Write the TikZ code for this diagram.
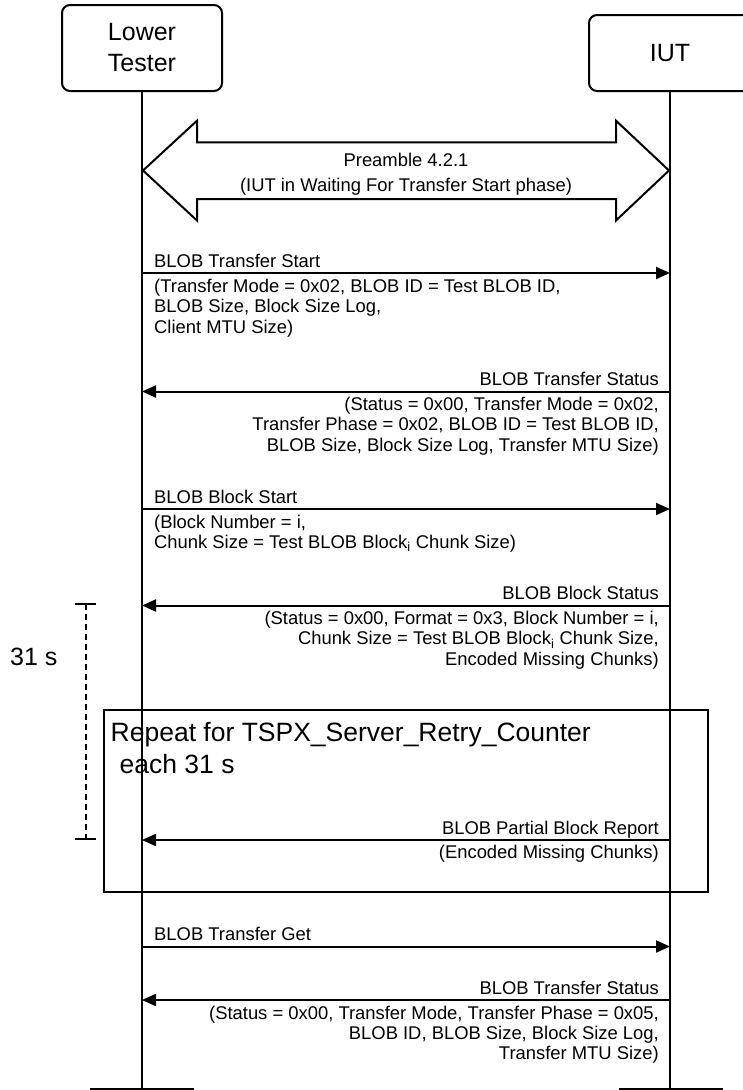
\documentclass[tikz,border=0pt]{standalone}
\usepackage{fontspec}
\setmainfont{Liberation Sans}
\usetikzlibrary{arrows.meta}
\tikzset{
  lbl/.style={inner sep=0pt, font=\fontsize{18.4}{20.3}\selectfont},
  big/.style={inner sep=0pt, font=\fontsize{26.5}{32}\selectfont},
  msg/.style={line width=2pt, -{Triangle[length=14pt,width=12pt]}},
  actor/.style={draw, line width=2pt, rounded corners=8pt, inner sep=0pt, align=center, font=\fontsize{25}{31}\selectfont},
  life/.style={line width=2pt},
  thick2/.style={line width=2pt},
}
\begin{document}
\begin{tikzpicture}[x=1pt,y=-1pt]
\useasboundingbox (0,0) rectangle (742,1090);
% actors
\node[actor, minimum width=160pt, minimum height=86pt] (lt) at (142,48) {Lower\\Tester};
\node[actor, minimum width=162pt, minimum height=76pt] (iut) at (670,53) {IUT};
\coordinate (ltend) at (142,1090);
\coordinate (iutend) at (670,1090);
\draw[life] (lt.south) -- (ltend);
\draw[life] (iut.south) -- (iutend);
% bottom actor tops
\coordinate (bl1) at (90,1089); \coordinate (bl2) at (194,1089);
\coordinate (br1) at (619,1089); \coordinate (br2) at (723,1089);
\draw[thick2] (bl1) -- (bl2);
\draw[thick2] (br1) -- (br2);
% preamble double arrow
\draw[thick2, fill=white, line join=miter] (143,170.5) -- (197,120.7) -- (197,142.3) -- (616,142.3) -- (616,120.7) -- (669,170.5) -- (616,220.5) -- (616,199) -- (197,199) -- (197,220.5) -- cycle;
\node[lbl, anchor=base] (pre1) at (406,166.5) {Preamble 4.2.1};
\node[lbl, anchor=base] (pre2) at (406,191.5) {(IUT in Waiting For Transfer Start phase)};
% message 1
\coordinate (m1l) at (142,273); \coordinate (m1r) at (670,273);
\draw[msg] (m1l) -- (m1r);
\node[lbl, anchor=base west] (m1t) at (154,267) {BLOB Transfer Start};
\node[lbl, anchor=base west] (m1a) at (154,292.5) {(Transfer Mode = 0x02, BLOB ID = Test BLOB ID,};
\node[lbl, anchor=base west] (m1b) at (154,312.8) {BLOB Size, Block Size Log,};
\node[lbl, anchor=base west] (m1c) at (154,333.1) {Client MTU Size)};
% message 2
\coordinate (m2l) at (142,391.5); \coordinate (m2r) at (670,391.5);
\draw[msg] (m2r) -- (m2l);
\node[lbl, anchor=base east] (m2t) at (659,385.5) {BLOB Transfer Status};
\node[lbl, anchor=base east] (m2a) at (659,410.5) {(Status = 0x00, Transfer Mode = 0x02,};
\node[lbl, anchor=base east] (m2b) at (659,430.8) {Transfer Phase = 0x02, BLOB ID = Test BLOB ID,};
\node[lbl, anchor=base east] (m2c) at (659,451.1) {BLOB Size, Block Size Log, Transfer MTU Size)};
% message 3
\coordinate (m3l) at (142,509); \coordinate (m3r) at (670,509);
\draw[msg] (m3l) -- (m3r);
\node[lbl, anchor=base west] (m3t) at (154,503) {BLOB Block Start};
\node[lbl, anchor=base west] (m3a) at (154,528) {(Block Number = i,};
\node[lbl, anchor=base west] (m3b) at (154,548.3) {Chunk Size = Test BLOB Block\textsubscript{i} Chunk Size)};
% message 4
\coordinate (m4l) at (142,605.5); \coordinate (m4r) at (670,605.5);
\draw[msg] (m4r) -- (m4l);
\node[lbl, anchor=base east] (m4t) at (659,599.5) {BLOB Block Status};
\node[lbl, anchor=base east] (m4a) at (659,624.5) {(Status = 0x00, Format = 0x3, Block Number = i,};
\node[lbl, anchor=base east] (m4b) at (659,644.8) {Chunk Size = Test BLOB Block\textsubscript{i} Chunk Size,};
\node[lbl, anchor=base east] (m4c) at (659,665.1) {Encoded Missing Chunks)};
% timer
\coordinate (tt) at (85.7,604.3); \coordinate (tb) at (85.7,839);
\coordinate (tt1) at (75,604.3); \coordinate (tt2) at (96,604.3);
\coordinate (tb1) at (75,839); \coordinate (tb2) at (96,839);
\draw[thick2] (tt1) -- (tt2);
\draw[thick2] (tb1) -- (tb2);
\draw[thick2, dash pattern=on 6pt off 4pt] (tt) -- (tb);
\node[big, anchor=base west, font=\fontsize{25}{30}\selectfont] (tm) at (10,665) {31 s};
% repeat box
\node[draw, thick2, inner sep=0pt, minimum width=603.5pt, minimum height=182pt] (rep) at (405.75,801) {};
\node[big, anchor=base west] (rep1) at (110.5,741) {Repeat for TSPX\_Server\_Retry\_Counter};
\node[big, anchor=base west] (rep2) at (119.5,773) {each 31 s};
% message 5
\coordinate (m5l) at (142,840); \coordinate (m5r) at (670,840);
\draw[msg] (m5r) -- (m5l);
\node[lbl, anchor=base east] (m5t) at (659,834) {BLOB Partial Block Report};
\node[lbl, anchor=base east] (m5a) at (659,858) {(Encoded Missing Chunks)};
% message 6
\coordinate (m6l) at (142,946.5); \coordinate (m6r) at (670,946.5);
\draw[msg] (m6l) -- (m6r);
\node[lbl, anchor=base west] (m6t) at (154,940.5) {BLOB Transfer Get};
% message 7
\coordinate (m7l) at (142,1000); \coordinate (m7r) at (670,1000);
\draw[msg] (m7r) -- (m7l);
\node[lbl, anchor=base east] (m7t) at (659,994) {BLOB Transfer Status};
\node[lbl, anchor=base east] (m7a) at (659,1019) {(Status = 0x00, Transfer Mode, Transfer Phase = 0x05,};
\node[lbl, anchor=base east] (m7b) at (659,1039.3) {BLOB ID, BLOB Size, Block Size Log,};
\node[lbl, anchor=base east] (m7c) at (659,1059.6) {Transfer MTU Size)};
\end{tikzpicture}
\end{document}
